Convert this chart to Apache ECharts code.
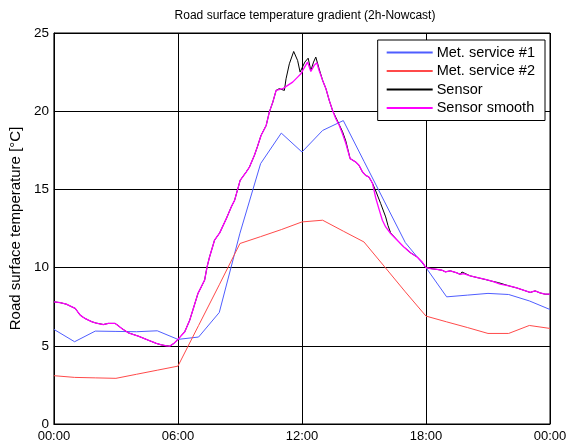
<!DOCTYPE html>
<html>
<head>
<meta charset="utf-8">
<script src="https://cdn.jsdelivr.net/npm/echarts@6/dist/echarts.min.js"></script>
<style>
  html, body { margin: 0; padding: 0; background: #fff; }
  #chart { width: 570px; height: 448px; }
</style>
</head>
<body>
<div id="chart"></div>
<script>
// Hourly forecast times (hours since midnight)
const forecastHours = [0,1,2,3,4,5,6,7,8,9,10,11,12,13,14,15,16,17,18,19,20,21,22,23,24];
// Met. service #1 road surface temperature forecast [°C]
const metService1 = [6.05,5.26,5.94,5.92,5.9,5.96,5.41,5.56,7.13,12.2,16.65,18.6,17.39,18.77,19.4,16.8,14.2,11.6,10.0,8.13,8.24,8.35,8.28,7.87,7.32];
// Met. service #2 road surface temperature forecast [°C]
const metService2 = [3.09,2.98,2.95,2.92,3.18,3.44,3.7,6.3,8.9,11.54,11.98,12.43,12.92,13.03,12.33,11.64,10.05,8.45,6.9,6.53,6.17,5.79,5.79,6.3,6.11];

// Smoothed sensor readings: times [h] and values [°C]
const smoothTimes = [0,0.3,0.6,0.85,1.03,1.27,1.5,1.67,1.85,2.05,2.39,2.63,2.96,3.1,3.28,3.6,3.85,4.08,4.56,4.96,5.2,5.45,5.6,5.8,6.0,6.33,6.57,6.73,6.97,7.13,7.29,7.41,7.53,7.77,8.02,8.34,8.58,8.74,8.9,9.01,9.3,9.46,9.7,9.85,10.02,10.27,10.42,10.59,10.75,11.07,11.31,11.55,11.79,11.95,12.08,12.27,12.43,12.59,12.72,12.83,13.0,13.16,13.32,13.48,13.64,13.8,13.96,14.12,14.33,14.6,14.76,14.93,15.08,15.24,15.41,15.57,15.72,15.89,16.05,16.29,16.61,16.93,17.25,17.57,17.81,18.0,18.22,18.54,18.78,18.94,19.18,19.5,19.66,19.82,20.14,20.55,20.87,21.19,21.59,22.07,22.39,22.71,23.04,23.28,23.52,23.76,24.0];
const smoothValues = [7.81,7.76,7.66,7.5,7.39,6.96,6.75,6.64,6.53,6.45,6.36,6.43,6.43,6.3,6.11,5.83,5.72,5.62,5.36,5.15,5.06,5.0,4.98,5.15,5.41,5.9,6.64,7.32,8.35,8.77,9.2,10.05,10.68,11.75,12.22,13.13,13.88,14.3,15.05,15.58,16.11,16.43,17.18,17.75,18.45,19.09,19.94,20.58,21.33,21.44,21.65,21.86,22.18,22.39,22.71,23.14,22.54,22.93,23.1,22.6,21.97,21.44,20.69,20.05,19.52,19.1,18.56,17.95,16.97,16.75,16.54,16.11,15.9,15.79,15.4,14.45,13.77,13.03,12.6,12.18,11.75,11.32,10.95,10.68,10.36,10.0,9.94,9.88,9.83,9.73,9.79,9.66,9.56,9.62,9.47,9.34,9.24,9.13,8.94,8.81,8.7,8.56,8.41,8.51,8.38,8.3,8.3];

// Raw sensor readings: times [h] and values [°C]
const sensorTimes = [0,0.3,0.6,0.85,1.03,1.27,1.5,1.67,1.85,2.05,2.39,2.63,2.96,3.1,3.28,3.6,3.85,4.08,4.56,4.96,5.2,5.45,5.6,5.8,6.0,6.33,6.57,6.73,6.97,7.13,7.29,7.41,7.53,7.77,8.02,8.34,8.58,8.74,8.9,9.01,9.3,9.46,9.7,9.85,10.02,10.27,10.42,10.59,10.75,10.9,11.15,11.23,11.39,11.6,11.79,11.91,12.0,12.14,12.3,12.43,12.56,12.67,12.83,13.0,13.16,13.32,13.48,13.64,13.8,13.96,14.12,14.33,14.6,14.76,14.93,15.08,15.24,15.41,15.57,15.81,16.05,16.16,16.29,16.61,16.93,17.25,17.57,17.81,18.0,18.22,18.54,18.78,18.94,19.18,19.5,19.66,19.74,19.82,20.14,20.55,20.87,21.19,21.5,21.59,22.07,22.39,22.71,23.04,23.28,23.52,23.76,24.0];
const sensorValues = [7.81,7.76,7.66,7.5,7.39,6.96,6.75,6.64,6.53,6.45,6.36,6.43,6.43,6.3,6.11,5.83,5.72,5.62,5.36,5.15,5.06,5.0,4.98,5.15,5.41,5.9,6.64,7.32,8.35,8.77,9.2,10.05,10.68,11.75,12.22,13.13,13.88,14.3,15.05,15.58,16.11,16.43,17.18,17.75,18.45,19.09,19.94,20.58,21.33,21.44,21.33,22.07,23.03,23.82,23.24,22.5,22.39,23.14,23.39,22.6,23.14,23.46,22.71,21.97,21.44,20.69,20.05,19.6,19.15,18.7,18.1,16.97,16.75,16.54,16.11,15.9,15.79,15.4,14.9,14.09,13.24,12.7,12.22,11.75,11.32,10.95,10.68,10.36,10.0,9.94,9.88,9.83,9.73,9.79,9.66,9.56,9.72,9.62,9.47,9.34,9.24,9.13,9.04,8.94,8.81,8.7,8.56,8.41,8.51,8.38,8.3,8.3];

// Axis tick labels
const xTickLabels = ['00:00','06:00','12:00','18:00','00:00'];
const yTicks = [0,5,10,15,20,25];

const zip = (xs, ys) => xs.map((x, i) => [x, ys[i]]);

const chart = echarts.init(document.getElementById('chart'), null, { renderer: 'canvas' });
const font = 'Liberation Sans, Arial, sans-serif';

chart.setOption({
  animation: false,
  backgroundColor: '#ffffff',
  title: {
    text: 'Road surface temperature gradient (2h-Nowcast)',
    left: 300, top: 5, textAlign: 'center',
    textStyle: { fontFamily: font, fontSize: 12, fontWeight: 'normal', color: '#000' }
  },
  grid: { left: 52, right: 20, top: 33, bottom: 24, show: true, borderColor: '#000', borderWidth: 1 },
  legend: {
    orient: 'vertical',
    right: 25, top: 40,
    padding: [5, 10, 5, 9],
    itemWidth: 46, itemHeight: 2, itemGap: 3.5,
    icon: 'rect',
    backgroundColor: '#fff',
    borderColor: '#000', borderWidth: 1, borderRadius: 0,
    textStyle: { fontFamily: font, fontSize: 14.5, color: '#000', lineHeight: 14, padding: [0, 0, 0, -1] },
    data: ['Met. service #1', 'Met. service #2', 'Sensor', 'Sensor smooth']
  },
  xAxis: {
    type: 'value', min: 0, max: 24, interval: 6,
    axisLine: { show: true, lineStyle: { color: '#000', width: 1 } },
    axisTick: { show: false },
    axisLabel: {
      fontFamily: font, fontSize: 13, color: '#000', margin: 6,
      showMinLabel: true, showMaxLabel: true,
      formatter: (v) => xTickLabels[Math.round(v / 6)]
    },
    splitLine: { show: true, lineStyle: { color: '#000', width: 1 } }
  },
  yAxis: {
    type: 'value', min: yTicks[0], max: yTicks[yTicks.length - 1], interval: 5,
    name: 'Road surface temperature [°C]',
    nameLocation: 'middle', nameGap: 28,
    nameTextStyle: { fontFamily: font, fontSize: 15, color: '#000' },
    axisLine: { show: true, lineStyle: { color: '#000', width: 1 } },
    axisTick: { show: false },
    axisLabel: { fontFamily: font, fontSize: 13.5, color: '#000', margin: 5 },
    splitLine: { show: true, lineStyle: { color: '#000', width: 1 } }
  },
  series: [
    {
      name: 'Met. service #1', type: 'line', showSymbol: false,
      data: zip(forecastHours, metService1),
      itemStyle: { color: '#4f5dff' },
      lineStyle: { color: '#4f5dff', width: 1 }
    },
    {
      name: 'Met. service #2', type: 'line', showSymbol: false,
      data: zip(forecastHours, metService2),
      itemStyle: { color: '#ff4a4a' },
      lineStyle: { color: '#ff4a4a', width: 1 }
    },
    {
      name: 'Sensor', type: 'line', showSymbol: false,
      data: zip(sensorTimes, sensorValues),
      itemStyle: { color: '#000' },
      lineStyle: { color: '#000', width: 1 }
    },
    {
      name: 'Sensor smooth', type: 'line', showSymbol: false,
      data: zip(smoothTimes, smoothValues),
      itemStyle: { color: '#ff00ff' },
      lineStyle: { color: '#ff00ff', width: 1.3 }
    }
  ]
});
</script>
</body>
</html>
